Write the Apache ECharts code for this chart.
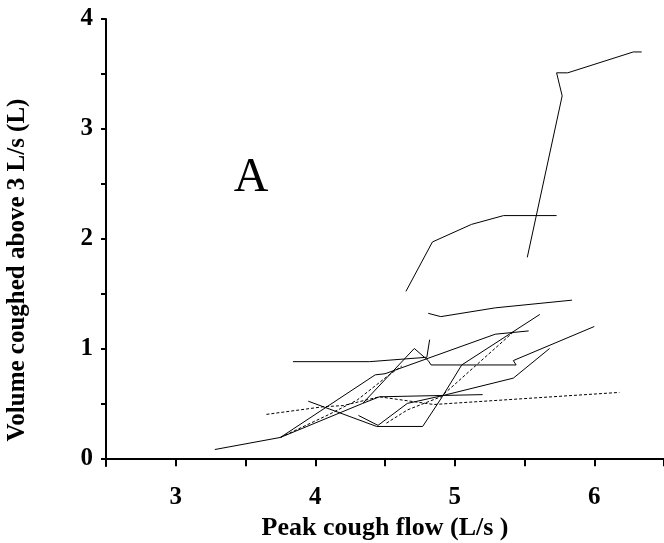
<!DOCTYPE html>
<html>
<head>
<meta charset="utf-8">
<script src="https://cdn.jsdelivr.net/npm/echarts@6/dist/echarts.min.js"></script>
<style>html,body{margin:0;padding:0;background:#fff}#c{width:664px;height:543px}</style>
</head>
<body>
<div id="c"></div>
<script>
// Individual subject traces: [peak cough flow (L/s), volume above 3 L/s (L)]
const subject1 = [[5.52,1.83],[5.77,3.30],[5.73,3.51],[5.81,3.51],[6.28,3.70],[6.34,3.70]];
const subject2 = [[4.65,1.52],[4.84,1.97],[5.12,2.13],[5.35,2.21],[5.73,2.21]];
const subject3 = [[4.81,1.32],[4.90,1.29],[5.29,1.37],[5.84,1.44]];
const subject4 = [[3.84,0.88],[4.39,0.88],[4.80,0.92],[4.82,1.08]];
const subject5 = [[4.34,0.50],[4.71,1.00],[4.81,0.89],[4.83,0.85],[5.44,0.85],[5.42,0.89],[6.00,1.20]];
const subject6 = [[3.28,0.08],[3.75,0.19],[4.43,0.76],[4.50,0.77],[5.29,1.13],[5.53,1.16]];
const subject7 = [[3.75,0.19],[4.34,0.50],[4.46,0.56],[5.20,0.58]];
const subject8 = [[4.31,0.39],[4.45,0.30],[4.66,0.50],[4.91,0.57],[5.42,0.73],[5.68,1.00]];
const subject9 = [[3.95,0.52],[4.44,0.29],[4.77,0.29],[4.91,0.56],[5.05,0.85],[5.61,1.31]];
// Dashed traces
const dashed1 = [[3.65,0.40],[4.06,0.47],[4.20,0.48],[4.46,0.56],[4.85,0.49],[6.18,0.60]];
const dashed2 = [[3.75,0.19],[4.10,0.40],[4.30,0.53],[4.53,0.76],[4.62,0.84]];
const dashed3 = [[4.51,0.32],[4.66,0.44],[4.90,0.56],[5.42,1.15]];

const solidTraces = [subject1,subject2,subject3,subject4,subject5,subject6,subject7,subject8,subject9];
const dashedTraces = [dashed1,dashed2,dashed3];

const xTickLabels = [3,4,5,6];
const yTickLabels = [0,1,2,3,4];
const yTicks = [0,0.5,1,1.5,2,2.5,3,3.5,4];

const FONT = 'Liberation Serif';
const series = [];
solidTraces.forEach((d,i)=>series.push({
  type:'line', name:'s'+(i+1), data:d, showSymbol:false, symbol:'none', silent:true,
  lineStyle:{color:'#000', width:1, type:'solid'}
}));
dashedTraces.forEach((d,i)=>series.push({
  type:'line', name:'d'+(i+1), data:d, showSymbol:false, symbol:'none', silent:true,
  lineStyle:{color:'#000', width:1, type:[3,2]}
}));

const chart = echarts.init(document.getElementById('c'), null, {renderer:'canvas'});
chart.setOption({
  animation:false,
  backgroundColor:'#fff',
  grid:{left:106, right:0, top:19, bottom:77, containLabel:false, outerBoundsMode:'none'},
  xAxis:{
    type:'value', min:2.5, max:6.5, interval:0.5,
    name:'Peak cough flow (L/s )', nameLocation:'middle', nameGap:45,
    nameTextStyle:{fontFamily:FONT, fontWeight:'bold', fontSize:26, color:'#000'},
    axisLine:{show:true, lineStyle:{color:'#000', width:2}},
    axisTick:{show:true, inside:false, length:8, lineStyle:{color:'#000', width:2}},
    axisLabel:{customValues:xTickLabels, margin:19, fontFamily:FONT, fontWeight:'bold', fontSize:25, color:'#000'},
    splitLine:{show:false}
  },
  yAxis:{
    type:'value', min:-0.07, max:4,
    axisLine:{show:true, lineStyle:{color:'#000', width:2}},
    axisTick:{show:true, customValues:yTicks, length:5, lineStyle:{color:'#000', width:2}},
    axisLabel:{customValues:yTickLabels, margin:13, fontFamily:FONT, fontWeight:'bold', fontSize:25, color:'#000'},
    splitLine:{show:false}
  },
  graphic:[
    {type:'text', x:18, y:270, rotation:Math.PI/2,
     style:{text:'Volume coughed above 3 L/s (L)', fill:'#000', font:'bold 25px "Liberation Serif"', textAlign:'center', textVerticalAlign:'middle'}},
    {type:'text', x:251, y:178,
     style:{text:'A', fill:'#000', font:'48px "Liberation Serif"', textAlign:'center', textVerticalAlign:'middle'}}
  ],
  series:series
});
</script>
</body>
</html>
